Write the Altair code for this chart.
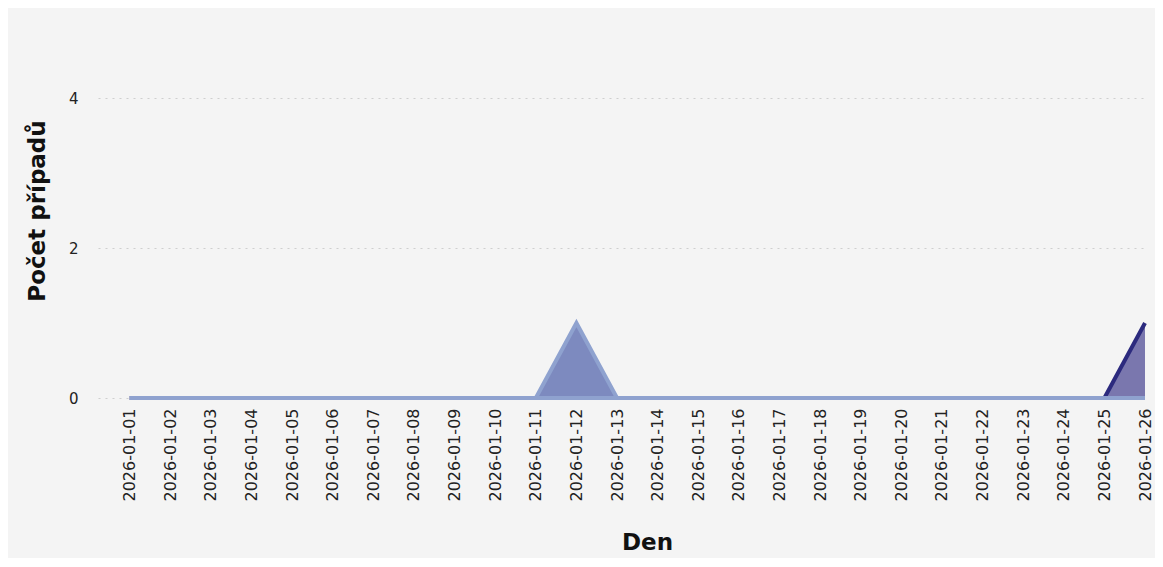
import altair as alt
import pandas as pd

# ---- data ----
dny = ["2026-01-01", "2026-01-02", "2026-01-03", "2026-01-04", "2026-01-05",
       "2026-01-06", "2026-01-07", "2026-01-08", "2026-01-09", "2026-01-10",
       "2026-01-11", "2026-01-12", "2026-01-13", "2026-01-14", "2026-01-15",
       "2026-01-16", "2026-01-17", "2026-01-18", "2026-01-19", "2026-01-20",
       "2026-01-21", "2026-01-22", "2026-01-23", "2026-01-24", "2026-01-25",
       "2026-01-26"]
serie_svetla = [0, 0, 0, 0, 0, 0, 0, 0, 0, 0, 0, 1, 0, 0, 0, 0, 0, 0, 0, 0,
                0, 0, 0, 0, 0, 0]
serie_tmava = [0, 0, 0, 0, 0, 0, 0, 0, 0, 0, 0, 0, 0, 0, 0, 0, 0, 0, 0, 0,
               0, 0, 0, 0, 0, 1]
y_ticks = [0, 2, 4]

df = pd.DataFrame({"Den": dny, "svetla": serie_svetla, "tmava": serie_tmava})

FONT = "DejaVu Sans"

x_enc = alt.X(
    "Den:O",
    sort=dny,
    scale=alt.Scale(type="point", padding=0.39, align=1),
    axis=alt.Axis(
        title="Den",
        labelAngle=270,
        labelFontSize=16,
        labelFont=FONT,
        labelColor="#222222",
        labelPadding=10,
        ticks=False,
        domain=False,
        grid=False,
        titleFont=FONT,
        titleFontSize=23,
        titleFontWeight="bold",
        titleColor="#111111",
        titleX=549,
        titleY=151,
        titleBaseline="alphabetic",
        labelOverlap=False,
    ),
)

y_axis = alt.Axis(
    title="Počet případů",
    values=y_ticks,
    labelFontSize=15,
    labelFont=FONT,
    labelColor="#222222",
    labelPadding=20,
    ticks=False,
    domain=False,
    grid=True,
    gridColor="#cfcfcf",
    gridDash=[2, 5],
    gridWidth=1,
    titleFont=FONT,
    titleFontSize=23,
    titleFontWeight="bold",
    titleColor="#111111",
    titleX=-61,
    titleBaseline="middle",
)
y_scale = alt.Scale(domain=[0, 5], nice=False)

base = alt.Chart(df)

dark_area = base.mark_area(color="#7a77ae", interpolate="linear").encode(
    x=x_enc, y=alt.Y("tmava:Q", scale=y_scale, axis=y_axis)
)
dark_line = base.mark_line(color="#2c2a7e", strokeWidth=4, interpolate="linear").encode(
    x=x_enc, y=alt.Y("tmava:Q", scale=y_scale, axis=y_axis)
)
light_area = base.mark_area(
    fill="#7d8abf", stroke="#8fa2cf", strokeWidth=4, interpolate="linear"
).encode(
    x=x_enc, y=alt.Y("svetla:Q", scale=y_scale, axis=y_axis)
)

chart = (
    alt.layer(dark_area, dark_line, light_area)
    .properties(
        width=1047,
        height=375,
        autosize=alt.AutoSizeParams(type="none"),
        padding={"left": 90, "top": 15, "right": 10, "bottom": 160},
        background="#f4f4f4",
    )
    .configure_view(stroke=None)
)

chart.save("out.html", embed_options={"renderer": "svg", "actions": False})
